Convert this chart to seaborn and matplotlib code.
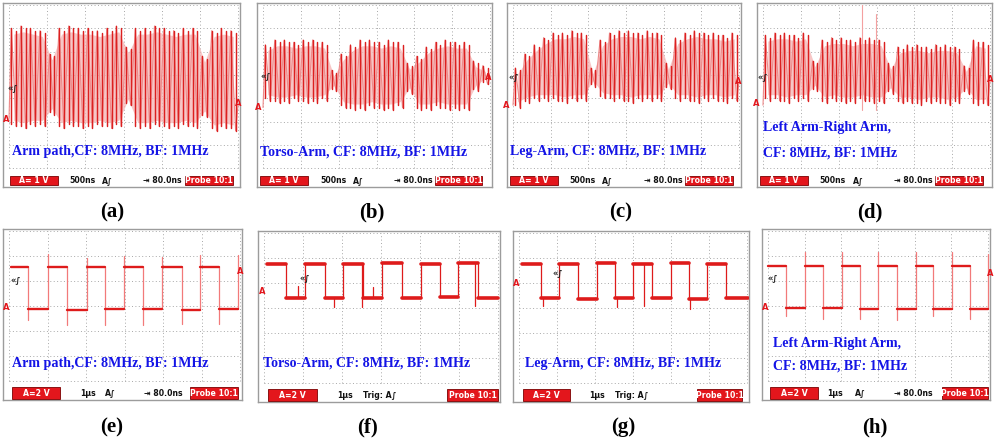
import numpy as np
import pandas as pd
import matplotlib
matplotlib.use("Agg")
import matplotlib.pyplot as plt
import seaborn as sns
from matplotlib.patches import Rectangle

# =====================================================
# Data (read off the scope screens, in divisions)
# =====================================================
# top row: 8 MHz carrier, one peak / one trough per carrier cycle (24 cycles on screen)
a_tops = [6.0, 6.1, 6.0, 5.9, 4.9, 6.0, 6.1, 6.0, 6.0, 5.9, 6.0, 6.1,
          5.2, 6.0, 6.0, 6.1, 6.0, 5.9, 6.0, 6.0, 4.8, 5.9, 6.0, 5.9]
a_bots = [1.8, 1.7, 1.8, 1.8, 2.3, 1.7, 1.8, 1.7, 1.7, 1.8, 1.7, 1.8,
          2.7, 1.7, 1.7, 1.8, 1.7, 1.7, 1.8, 1.7, 2.2, 1.6, 1.7, 1.6]
a_ends = [2.1, 2.7]

b_tops = [5.3, 5.5, 5.5, 5.4, 5.5, 5.5, 5.4, 4.2, 4.9, 5.3, 5.5, 5.5,
          5.4, 5.5, 5.4, 4.5, 4.8, 5.2, 5.4, 5.5, 5.4, 5.4, 4.6, 4.4]
b_bots = [2.9, 2.8, 2.8, 2.9, 2.8, 2.8, 2.9, 3.3, 2.6, 2.5, 2.5, 2.6,
          2.5, 2.5, 2.6, 3.2, 2.5, 2.5, 2.6, 2.5, 2.5, 2.5, 3.3, 3.6]
b_ends = [2.6, 3.9]

c_tops = [4.3, 4.9, 5.3, 5.6, 5.8, 5.8, 5.9, 5.8, 4.3, 5.5, 5.8, 5.9,
          5.9, 5.8, 5.9, 5.8, 4.5, 5.6, 5.8, 5.9, 5.8, 5.8, 5.7, 5.8]
c_bots = [2.6, 2.8, 2.9, 2.9, 2.9, 2.8, 2.9, 2.9, 3.5, 3.0, 2.9, 2.9,
          2.8, 2.9, 2.9, 2.9, 3.4, 2.9, 2.9, 2.8, 2.9, 2.9, 2.8, 2.9]
c_ends = [2.7, 3.7]

d_tops = [5.7, 5.8, 5.8, 5.7, 5.8, 4.6, 5.5, 5.6, 5.6, 5.5, 5.6, 5.6,
          5.5, 4.5, 5.2, 5.3, 5.3, 5.2, 5.3, 5.3, 5.2, 4.4, 5.5, 5.4]
d_bots = [2.9, 2.9, 2.8, 2.9, 2.9, 3.3, 2.8, 2.9, 2.8, 2.8, 2.9, 2.8,
          2.8, 3.2, 2.8, 2.8, 2.7, 2.8, 2.8, 2.7, 2.8, 3.2, 2.7, 2.7]
d_ends = [2.7, 3.8]
d_spike_t = [2.62, 2.98]
d_spike_top = [7.0, 6.6]

# bottom row: demodulated 1 MHz square wave (segment borders, levels, edge spikes)
e_t = [0.05, 0.49, 1.01, 1.51, 2.03, 2.49, 2.99, 3.48, 3.97, 4.49, 4.96, 5.45, 5.95]
e_lv = [4.56, 2.88, 4.58, 2.86, 4.56, 2.87, 4.58, 2.88, 4.56, 2.86, 4.55, 2.87]
e_pk = [2.44, 5.08, 2.24, 4.92, 2.24, 5.0, 2.24, 4.96, 2.3, 5.04, 2.28, 5.04]

f_t = [0.08, 0.56, 1.05, 1.56, 2.03, 2.54, 3.03, 3.54, 4.03, 4.51, 4.97, 5.49, 6.0]
f_lv = [4.76, 3.42, 4.78, 3.40, 4.78, 3.42, 4.80, 3.40, 4.78, 3.44, 4.80, 3.42]
f_glitch_t = [0.87, 1.8, 2.51, 2.79, 5.4]
f_glitch_v = [3.9, 3.05, 3.05, 3.85, 3.1]

g_t = [0.08, 0.58, 1.05, 1.55, 2.05, 2.53, 3.0, 3.5, 4.0, 4.47, 4.95, 5.45, 6.03]
g_lv = [4.78, 3.40, 4.78, 3.38, 4.80, 3.40, 4.78, 3.40, 4.82, 3.38, 4.78, 3.42]
g_glitch_t = [0.63, 2.58, 4.5, 3.3]
g_glitch_v = [3.08, 3.06, 2.96, 3.1]

h_t = [0.0, 0.49, 1.01, 1.5, 2.02, 2.51, 3.0, 3.52, 4.03, 4.5, 5.01, 5.5, 5.99]
h_lv = [4.62, 2.91, 4.60, 2.92, 4.61, 2.90, 4.60, 2.88, 4.60, 2.90, 4.60, 2.90]
h_pk = [2.6, 5.16, 2.48, 5.16, 2.48, 5.16, 2.44, 5.16, 2.6, 5.16, 2.48, 5.1]

titles = {
    "a": ["Arm path,CF: 8MHz, BF: 1MHz"],
    "b": ["Torso-Arm, CF: 8MHz, BF: 1MHz"],
    "c": ["Leg-Arm, CF: 8MHz, BF: 1MHz"],
    "d": ["Left Arm-Right Arm,", "CF: 8MHz, BF: 1MHz"],
    "e": ["Arm path,CF: 8MHz, BF: 1MHz"],
    "f": ["Torso-Arm, CF: 8MHz, BF: 1MHz"],
    "g": ["Leg-Arm, CF: 8MHz, BF: 1MHz"],
    "h": ["Left Arm-Right Arm,", "CF: 8MHz, BF: 1MHz"],
}

CYCLE = 0.25  # carrier period in divisions (125 ns at 500 ns/div)

# =====================================================
# Layout (pixels of the 1000x438 canvas)
# =====================================================
W, H = 1000, 438
TRACE = "#de1b1b"
STROKE = "#dc2020"
PINK = "#f5b3b3"
EDGE = "#f27a7a"
BLUE = "#1414e6"
BOXRED = "#e3161c"
SBAR = 5.6

layout = {
    # frame box, rows, row pitch, text anchors, status bar positions
    "a": dict(frame=(3, 3, 240, 187), rows=7, pitch=23.3, tx=12, ty=[152],
              box=(10, 58), sweep=(82, "500ns"), trig=(107, "A\u222b"), dly=162, probe=(185, 233),
              trg=(13, 88), gnd=[(6, 120), (238, 104)], lab=(112, 212)),
    "b": dict(frame=(257, 3, 492, 187), rows=7, pitch=23.3, tx=260, ty=[152],
              box=(260, 308), sweep=(333, "500ns"), trig=(358, "A\u222b"), dly=413, probe=(435, 482),
              trg=(266, 76), gnd=[(258, 107), (488, 77)], lab=(372, 212)),
    "c": dict(frame=(507, 3, 741, 187), rows=7, pitch=23.3, tx=510, ty=[152],
              box=(510, 558), sweep=(582, "500ns"), trig=(607, "A\u222b"), dly=663, probe=(685, 733),
              trg=(514, 77), gnd=[(506, 105), (738, 82)], lab=(621, 212)),
    "d": dict(frame=(757, 3, 992, 187), rows=7, pitch=23.3, tx=763, ty=[128, 153],
              box=(760, 808), sweep=(832, "500ns"), trig=(858, "A\u222b"), dly=913, probe=(935, 983),
              trg=(763, 77), gnd=[(756, 103), (990, 80)], lab=(870, 212)),
    "e": dict(frame=(3, 229, 242, 400), rows=6, pitch=25.0, tx=12, ty=[364],
              box=(12, 60), sweep=(88, "1\u00b5s"), trig=(110, "A\u222b"), dly=163, probe=(190, 238),
              trg=(16, 280), gnd=[(6, 307), (240, 272)], lab=(112, 427)),
    "f": dict(frame=(258, 231, 500, 402), rows=6, pitch=25.0, tx=263, ty=[363],
              box=(268, 317), sweep=(345, "1\u00b5s"), trig=(380, "Trig: A\u222b"), dly=None, probe=(447, 498),
              trg=(305, 278), gnd=[(262, 292)], lab=(368, 427)),
    "g": dict(frame=(513, 231, 749, 402), rows=6, pitch=25.0, tx=525, ty=[363],
              box=(523, 570), sweep=(597, "1\u00b5s"), trig=(632, "Trig: A\u222b"), dly=None, probe=(697, 742),
              trg=(558, 273), gnd=[(516, 284)], lab=(623, 427)),
    "h": dict(frame=(762, 229, 990, 400), rows=6, pitch=25.0, tx=773, ty=[343, 366],
              box=(770, 818), sweep=(835, "1\u00b5s"), trig=(860, "A\u222b"), dly=913, probe=(942, 988),
              trg=(773, 278), gnd=[(765, 308), (990, 273)], lab=(875, 427)),
}

sns.set_theme(style="white")
plt.rcParams["font.family"] = ["DejaVu Sans"]
plt.rcParams["text.color"] = "black"

fig = plt.figure(figsize=(10, 4.38), dpi=100)
fig.patch.set_facecolor("white")


def fx(px):
    return px / W


def fy(py):
    return 1 - py / H


def make_panel(key):
    L = layout[key]
    x0, y0, x1, y1 = L["frame"]
    ax = fig.add_axes([fx(x0), fy(y1), (x1 - x0) / W, (y1 - y0) / H])
    gx0, gx1 = x0 + 6, x1 - 2
    dx = (gx1 - gx0) / 6
    gy_top = y0 + 2
    gy_bot = gy_top + L["rows"] * L["pitch"]
    ax.set_xlim((x0 - gx0) / dx, (x1 - gx0) / dx)
    ax.set_ylim((gy_bot - y1) / L["pitch"], (gy_bot - y0) / L["pitch"])
    ax.set_facecolor("white")
    for i in range(7):
        ax.plot([i, i], [0, L["rows"]], color="#a8a8a8", lw=0.7, ls=(0, (1, 2.5)), zorder=1)
    for j in range(L["rows"] + 1):
        ax.plot([0, 6], [j, j], color="#a8a8a8", lw=0.7, ls=(0, (1, 2.5)), zorder=1)
    ax.set_xticks([])
    ax.set_yticks([])
    for s in ax.spines.values():
        s.set_color("#9c9c9c")
        s.set_linewidth(1.0)
    return ax


def status_bar(key, scale_txt):
    L = layout[key]
    x0, y0, x1, y1 = L["frame"]
    if y0 < 100:
        bt, bb = y1 - 11, y1 - 2
    else:
        bt, bb = y1 - 13, y1 - 1
    yc = fy((bt + bb) / 2)
    for (a0, a1), txt in [(L["box"], scale_txt), (L["probe"], "Probe 10:1")]:
        fig.add_artist(Rectangle((fx(a0), fy(bb)), (a1 - a0) / W, (bb - bt) / H,
                                 transform=fig.transFigure, facecolor=BOXRED,
                                 edgecolor="#7a0000", lw=0.6, zorder=4))
        fig.text(fx((a0 + a1) / 2), yc, txt, color="white", fontsize=SBAR, weight="bold",
                 ha="center", va="center", zorder=5)
    fig.text(fx(L["sweep"][0]), yc, L["sweep"][1], fontsize=SBAR, weight="bold",
             ha="center", va="center", color="#111111", zorder=5)
    fig.text(fx(L["trig"][0]), yc, L["trig"][1], fontsize=SBAR, weight="bold",
             ha="center", va="center", color="#111111", zorder=5)
    if L["dly"] is not None:
        fig.text(fx(L["dly"]), yc, "\u21e5 80.0ns", fontsize=SBAR, weight="bold",
                 ha="center", va="center", color="#111111", zorder=5)


def decorations(key):
    L = layout[key]
    for line, ty in zip(titles[key], L["ty"]):
        fig.text(fx(L["tx"]), fy(ty), line, color=BLUE, fontsize=10.1, weight="bold",
                 family="Liberation Serif", ha="left", va="center", zorder=5)
    fig.text(fx(L["trg"][0]), fy(L["trg"][1]), "\u00ab\u222b", fontsize=6, weight="bold",
             color="#222222", ha="center", va="center", zorder=5)
    for gx, gy in L["gnd"]:
        fig.text(fx(gx), fy(gy), "A", fontsize=6, weight="bold", color=BOXRED,
                 ha="center", va="center", zorder=5)
    fig.text(fx(L["lab"][0]), fy(L["lab"][1]), f"({key})", fontsize=15, weight="bold",
             family="Liberation Serif", color="black", ha="center", va="center")


def carrier(ax, tops, bots, ends):
    # light zigzag through the extremes, pink persistence band, dark vertical strokes
    t, y = [0.0], [ends[0]]
    tc = []
    strokes = []
    for k, (hi, lo) in enumerate(zip(tops, bots)):
        t_up = k * CYCLE + CYCLE / 4
        t_dn = k * CYCLE + 3 * CYCLE / 4
        t += [t_up, t_dn]
        y += [hi, lo]
        tc.append(k * CYCLE + CYCLE / 2)
        strokes += [(t_up, lo + 0.1, 2 * k), (t_up, hi, 2 * k),
                    (t_dn, lo, 2 * k + 1), (t_dn, hi - 0.1, 2 * k + 1)]
    t.append(len(tops) * CYCLE)
    y.append(ends[1])
    ax.fill_between(tc, np.array(tops) - 0.25, np.array(bots) + 0.25,
                    color=PINK, alpha=0.75, lw=0, zorder=2)
    sns.lineplot(x=t, y=y, ax=ax, color="#ee8a8a", lw=0.8, estimator=None, sort=False, zorder=3)
    sdf = pd.DataFrame(strokes, columns=["t", "v", "seg"])
    sns.lineplot(data=sdf, x="t", y="v", units="seg", estimator=None, sort=False,
                 ax=ax, color=STROKE, lw=1.05, zorder=4)


def square(ax, t, lv, pk=None, glitch_t=None, glitch_v=None, lw=1.6, edge_col=EDGE):
    rows = []
    for i, v in enumerate(lv):
        rows.append((t[i], v, i))
        rows.append((t[i + 1], v, i))
    flat = pd.DataFrame(rows, columns=["t", "v", "seg"])
    edges = []
    n_edges = len(t) - 1 if pk is not None else len(t) - 2
    for i in range(1, n_edges + 1):
        vals = [lv[i - 1]]
        if i < len(lv):
            vals.append(lv[i])
        if pk is not None:
            vals.append(pk[i - 1])
        edges.append((t[i], min(vals), i))
        edges.append((t[i], max(vals), i))
    if glitch_t is not None:
        for j, (gt, gv) in enumerate(zip(glitch_t, glitch_v)):
            idx = int(np.searchsorted(t, gt)) - 1
            edges.append((gt, lv[idx], 100 + j))
            edges.append((gt, gv, 100 + j))
    edf = pd.DataFrame(edges, columns=["t", "v", "seg"])
    sns.lineplot(data=edf, x="t", y="v", units="seg", estimator=None, sort=False,
                 ax=ax, color=edge_col, lw=0.9, zorder=2)
    sns.lineplot(data=flat, x="t", y="v", units="seg", estimator=None, sort=False,
                 ax=ax, color=TRACE, lw=lw, zorder=3)


# =====================================================
# Top row: modulated carrier
# =====================================================
for key, tops, bots, ends in [("a", a_tops, a_bots, a_ends), ("b", b_tops, b_bots, b_ends),
                              ("c", c_tops, c_bots, c_ends), ("d", d_tops, d_bots, d_ends)]:
    ax = make_panel(key)
    carrier(ax, tops, bots, ends)
    if key == "d":
        for st, sv in zip(d_spike_t, d_spike_top):
            ax.plot([st, st], [2.5, sv], color="#f4a0a0", lw=0.8, zorder=2)
    status_bar(key, "A= 1 V")
    decorations(key)

# =====================================================
# Bottom row: recovered baseband
# =====================================================
ax = make_panel("e")
square(ax, e_t, e_lv, pk=e_pk, lw=1.7)
status_bar("e", "A=2 V")
decorations("e")

ax = make_panel("f")
square(ax, f_t, f_lv, glitch_t=f_glitch_t, glitch_v=f_glitch_v, lw=2.6, edge_col=TRACE)
status_bar("f", "A=2 V")
decorations("f")

ax = make_panel("g")
square(ax, g_t, g_lv, glitch_t=g_glitch_t, glitch_v=g_glitch_v, lw=2.6, edge_col=TRACE)
status_bar("g", "A=2 V")
decorations("g")

ax = make_panel("h")
square(ax, h_t, h_lv, pk=h_pk, lw=1.7)
status_bar("h", "A=2 V")
decorations("h")

for a in fig.axes:
    if a.get_legend() is not None:
        a.get_legend().remove()

fig.savefig("out.png", dpi=100, facecolor="white")
